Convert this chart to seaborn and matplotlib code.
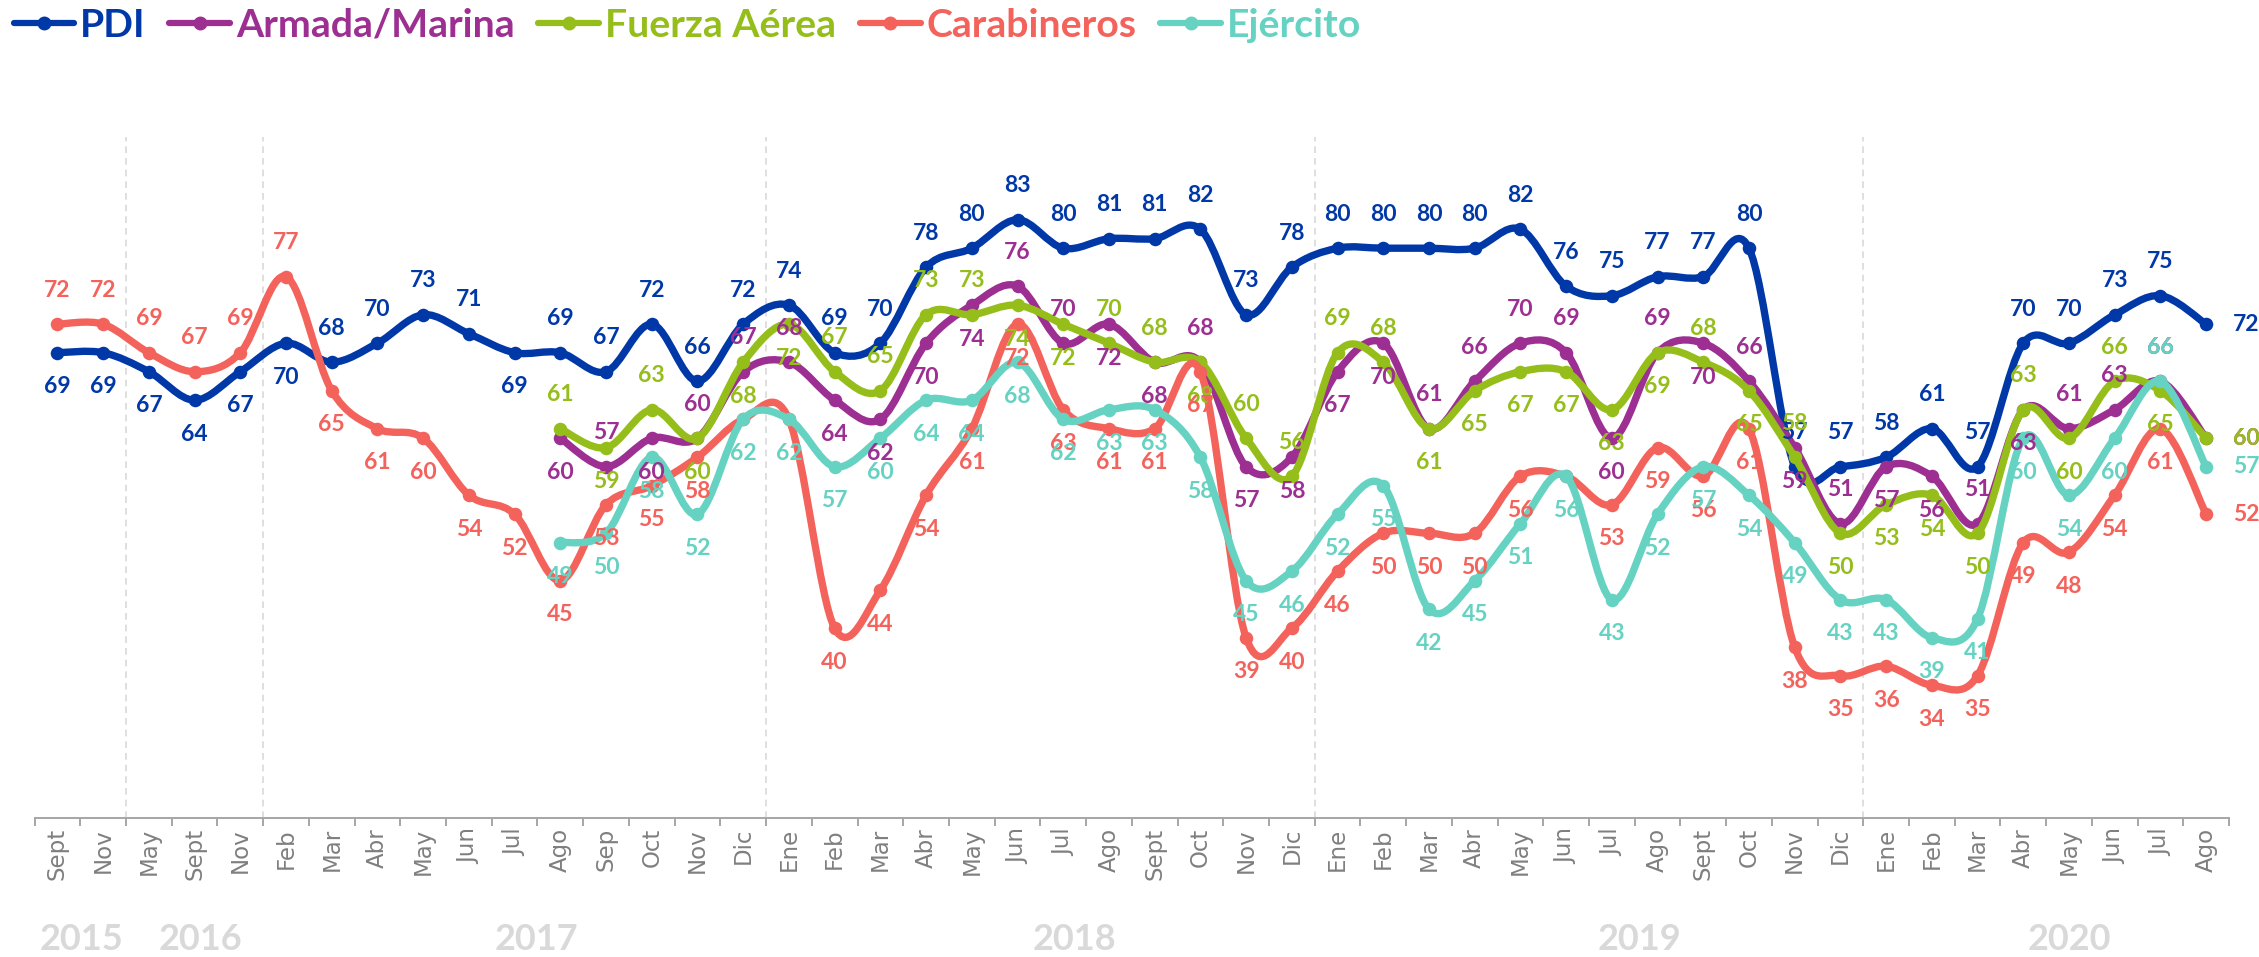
import numpy as np
import pandas as pd
import matplotlib
matplotlib.use("Agg")
import matplotlib.pyplot as plt
import seaborn as sns
from matplotlib.path import Path
from matplotlib.patches import PathPatch
from matplotlib.lines import Line2D
from matplotlib.font_manager import FontProperties
from matplotlib.transforms import blended_transform_factory

# ---------------- data ----------------
months = ["Sept", "Nov", "May", "Sept", "Nov", "Feb", "Mar", "Abr", "May", "Jun", "Jul",
          "Ago", "Sep", "Oct", "Nov", "Dic",
          "Ene", "Feb", "Mar", "Abr", "May", "Jun", "Jul", "Ago", "Sept", "Oct", "Nov", "Dic",
          "Ene", "Feb", "Mar", "Abr", "May", "Jun", "Jul", "Ago", "Sept", "Oct", "Nov", "Dic",
          "Ene", "Feb", "Mar", "Abr", "May", "Jun", "Jul", "Ago"]
years = ["2015", "2016", "2017", "2018", "2019", "2020"]

pdi = [69, 69, 67, 64, 67, 70, 68, 70, 73, 71, 69, 69, 67, 72, 66, 72,
       74, 69, 70, 78, 80, 83, 80, 81, 81, 82, 73, 78,
       80, 80, 80, 80, 82, 76, 75, 77, 77, 80, 57, 57,
       58, 61, 57, 70, 70, 73, 75, 72]
carabineros = [72, 72, 69, 67, 69, 77, 65, 61, 60, 54, 52, 45, 53, 55, 58, 62,
               62, 40, 44, 54, 61, 72, 63, 61, 61, 67, 39, 40,
               46, 50, 50, 50, 56, 56, 53, 59, 56, 61, 38, 35,
               36, 34, 35, 49, 48, 54, 61, 52]
armada = [np.nan] * 11 + [60, 57, 60, 60, 67,
                          68, 64, 62, 70, 74, 76, 70, 72, 68, 68, 57, 58,
                          67, 70, 61, 66, 70, 69, 60, 69, 70, 66, 59, 51,
                          57, 56, 51, 63, 61, 63, 66, 60]
fuerza_aerea = [np.nan] * 11 + [61, 59, 63, 60, 68,
                                72, 67, 65, 73, 73, 74, 72, 70, 68, 68, 60, 56,
                                69, 68, 61, 65, 67, 67, 63, 69, 68, 65, 58, 50,
                                53, 54, 50, 63, 60, 66, 65, 60]
ejercito = [np.nan] * 11 + [49, 50, 58, 52, 62,
                            62, 57, 60, 64, 64, 68, 62, 63, 63, 58, 45, 46,
                            52, 55, 42, 45, 51, 56, 43, 52, 57, 54, 49, 43,
                            43, 39, 41, 60, 54, 60, 66, 57]

series_names = ["PDI", "Armada/Marina", "Fuerza Aérea", "Carabineros", "Ejército"]

# ---------------- styles ----------------
colors = ["#0038A8", "#9C2F91", "#95BE1A", "#F4625C", "#66D2C2"]
# label placement: a=above, b=below, r=right, n=none, ' '=no data
pos_pdi = "bbbbbbaaaabaaaaa" + "a" * 12 + "a" * 12 + "aaaaaaar"
pos_arm = " " * 11 + "babaa" + "abbbbaabbabb" + "bbaaaabababa" + "bbabaaar"
pos_fa = " " * 11 + "ababb" + "baaaabbaabaa" + "aabbbbbbabab" + "bbbababr"
pos_car = "aaaaaa" + "bbbbbbbbb" + "n" + "n" + "b" * 11 + "bbbbbnbbbbbb" + "bbbbbbbr"
pos_eje = " " * 11 + "b" * 35 + "ar"
positions = [pos_pdi, pos_arm, pos_fa, pos_car, pos_eje]
values = [pdi, armada, fuerza_aerea, carabineros, ejercito]

year_x = [0.53, 3.12, 10.47, 22.25, 34.6, 44.0]
separators = [1.5, 4.5, 15.5, 27.5, 39.5]

sns.set_theme(style="white")
plt.rcParams["font.family"] = ["DejaVu Sans"]

W, H = 2259, 957
fig = plt.figure(figsize=(W / 100, H / 100), dpi=100)
ax = fig.add_axes([34.6 / W, 1 - 818.2 / H, (2229 - 34.6) / W, (818.2 - 10.7) / H])
ax.set_xlim(-0.5, len(months) - 0.5)
ax.set_ylim(20, 105)

# year separators
ax.vlines(separators, 20, 91.7, colors="#d9d9d9", linestyles=(0, (4, 3)), linewidth=1.2, zorder=1)


def smooth_path(xs, ys):
    verts, codes = [], []
    run = []
    runs = []
    for x, y in zip(xs, ys):
        if np.isnan(y):
            if run:
                runs.append(run)
            run = []
        else:
            run.append(np.array([x, y], dtype=float))
    if run:
        runs.append(run)
    for pts in runs:
        n = len(pts)
        verts.append(pts[0]); codes.append(Path.MOVETO)
        for k in range(n - 1):
            p0 = pts[k - 1] if k > 0 else pts[k]
            p1 = pts[k]
            p2 = pts[k + 1]
            p3 = pts[k + 2] if k + 2 < n else pts[k + 1]
            c1 = p1 + (p2 - p0) / 6.0
            c2 = p2 - (p3 - p1) / 6.0
            verts += [c1, c2, p2]
            codes += [Path.CURVE4] * 3
    return Path(verts, codes)


label_font = FontProperties(family="Lato", weight="bold", size=16.5)
xs = np.arange(len(months))
for si, (name, vals, col, pos) in enumerate(zip(series_names, values, colors, positions)):
    vals = np.array(vals, dtype=float)
    z = 3 + si
    patch = PathPatch(smooth_path(xs, vals), facecolor="none", edgecolor=col, lw=5.3,
                      capstyle="round", joinstyle="round", zorder=z)
    ax.add_patch(patch)
    df = pd.DataFrame({"x": xs, "y": vals}).dropna()
    sns.scatterplot(data=df, x="x", y="y", color=col, s=95, linewidth=0, ax=ax,
                    zorder=z + 0.5, legend=False)
    for i, v in enumerate(vals):
        if np.isnan(v):
            continue
        code = pos[i]
        if code in (" ", "n"):
            continue
        if code == "a":
            off = (0, 34)
        elif code == "b":
            off = (0, -34)
        else:
            off = (40, 0)
        ax.annotate(f"{int(v)}", (i, v), xytext=off, textcoords="offset pixels",
                    ha="center", va="center", color=col, fontproperties=label_font, zorder=20)

# axes styling
for s in ["left", "right", "top"]:
    ax.spines[s].set_visible(False)
ax.spines["bottom"].set_color("#a6a6a6")
ax.spines["bottom"].set_linewidth(1.4)
ax.set_yticks([])
ax.set_xticks(xs)
ax.set_xticklabels(months, rotation=90, color="#7f7f7f", fontsize=16.5)
ax.set_xticks(np.arange(-0.5, len(months), 1.0), minor=True)
ax.tick_params(axis="x", which="major", length=0, pad=7)
ax.tick_params(axis="x", which="minor", length=6, width=1.4, color="#a6a6a6", bottom=True)
ax.set_xlabel("")
ax.set_ylabel("")
ax.grid(False)

# year labels
tr = blended_transform_factory(ax.transData, fig.transFigure)
year_font = FontProperties(family="Lato", weight="bold", size=26)
for yx, ylab in zip(year_x, years):
    ax.text(yx, 1 - 940 / H, ylab, transform=tr, ha="center", va="center",
            color="#d9d9d9", fontproperties=year_font)

# legend
handles = [Line2D([0], [0], color=c, lw=4.5, marker="o", ms=9, solid_capstyle="round") for c in colors]
fig.legend(handles, series_names, loc="upper left", bbox_to_anchor=(0.006, 0.992), ncol=5,
           frameon=False, prop=FontProperties(family="Lato", weight="bold", size=28.3),
           labelcolor=colors, handlelength=1.55, handletextpad=0.15, columnspacing=0.6,
           borderpad=0, borderaxespad=0)

fig.savefig("out.png", dpi=100)
